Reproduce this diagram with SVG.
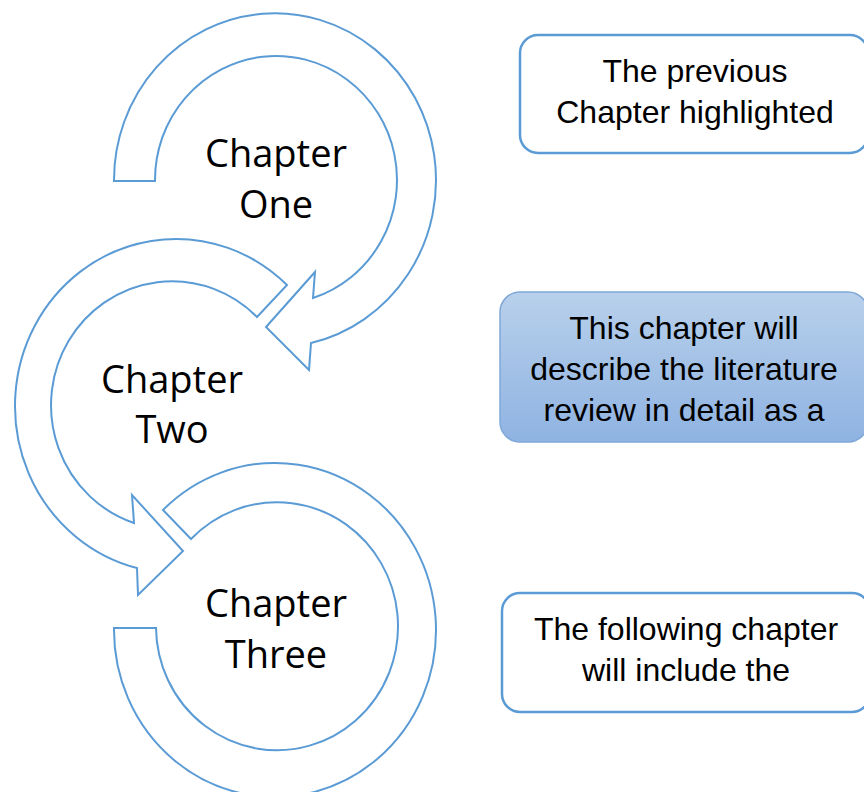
<svg xmlns="http://www.w3.org/2000/svg" width="864" height="792" viewBox="0 0 864 792">
<defs>
<linearGradient id="g2" x1="0" y1="0" x2="0" y2="1">
<stop offset="0" stop-color="#b8d0eb"/>
<stop offset="1" stop-color="#8fb3e2"/>
</linearGradient>
</defs>
<style>
.arc{fill:#ffffff;stroke:#5b9bd5;stroke-width:2;stroke-linejoin:miter}
.ch{font-family:"Open Sans","Noto Sans",sans-serif;font-size:38px;fill:#000;text-anchor:middle}
.box{fill:#ffffff;stroke:#5b9bd5;stroke-width:2.5}
.box2{fill:url(#g2);stroke:#7fa8d9;stroke-width:1.5}
.bt{font-family:"Liberation Sans",Arial,sans-serif;font-size:32px;fill:#000;text-anchor:middle}
</style>
<rect width="864" height="792" fill="#ffffff"/>
<g id="connectors"/>
<g id="chapter-three">
<path class="arc" d="M163,510 A161 167 0 1 1 114,628 L156,628 A121 124 0 1 0 191,539 Z"/>
<text class="ch" x="276" y="617">Chapter</text>
<text class="ch" x="276" y="668">Three</text>
</g>
<g id="chapter-two">
<path class="arc" d="M287,285 A161 167 0 1 0 137,568 L138,595 L183,551 L132,495 L134,523 A121 124 0 1 1 257,317 Z"/>
<text class="ch" x="172" y="393">Chapter</text>
<text class="ch" x="172" y="443">Two</text>
</g>
<g id="chapter-one">
<path class="arc" d="M114,181 A161 167 0 1 1 311,343 L309,370 L266,327 L315,272 L313,298 A121 124 0 1 0 155,181 Z"/>
<text class="ch" x="276" y="167">Chapter</text>
<text class="ch" x="276" y="218">One</text>
</g>
<g id="box-previous">
<rect class="box" x="520" y="35" width="348" height="118" rx="18"/>
<text class="bt" x="695" y="82">The previous</text>
<text class="bt" x="695" y="123">Chapter highlighted</text>
</g>
<g id="box-this">
<rect class="box2" x="500" y="292" width="368" height="150" rx="20"/>
<text class="bt" x="684" y="339">This chapter will</text>
<text class="bt" x="684" y="380">describe the literature</text>
<text class="bt" x="684" y="421">review in detail as a</text>
</g>
<g id="box-following">
<rect class="box" x="502" y="593" width="368" height="119" rx="18"/>
<text class="bt" x="686" y="640">The following chapter</text>
<text class="bt" x="686" y="681">will include the</text>
</g>
</svg>
